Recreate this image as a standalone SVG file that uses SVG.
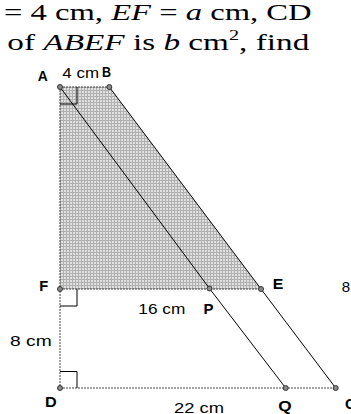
<svg xmlns="http://www.w3.org/2000/svg" width="351" height="414" viewBox="0 0 351 414">
<style>
.t{font-family:"Liberation Serif","Times New Roman",serif;font-size:23px;fill:#000}
.i{font-style:italic}
.lb{font-family:"Liberation Sans",Arial,sans-serif;font-weight:bold;font-size:15px;fill:#000}
.ln{font-family:"Liberation Sans",Arial,sans-serif;font-size:15px;fill:#000}
.dot{fill:#8a8a8a;stroke:#333;stroke-width:1}
.solid{stroke:#000;stroke-width:1;fill:none}
.dash{stroke:#444;stroke-width:1;stroke-dasharray:2 1;fill:none}
.ra{stroke:#000;stroke-width:1;fill:none}
</style>
<defs>
<pattern id="grid" x="0" y="0" width="3" height="3" patternUnits="userSpaceOnUse">
<rect width="3" height="3" fill="#e0e0e0"/>
<rect width="3" height="1" fill="#b0b0b0"/>
<rect width="1" height="3" fill="#b0b0b0"/>
</pattern>
</defs>
<rect width="351" height="414" fill="#fff"/>

<g id="header">
<text class="t" x="4" y="20" textLength="307.7" lengthAdjust="spacingAndGlyphs">= 4 cm, <tspan class="i">EF</tspan> = <tspan class="i">a</tspan> cm, CD</text>
<text class="t" x="7.3" y="49.5" textLength="302" lengthAdjust="spacingAndGlyphs">of <tspan class="i">ABEF</tspan> is <tspan class="i">b</tspan> cm<tspan font-size="14" dy="-10">2</tspan><tspan dy="10">, find</tspan></text>
</g>

<polygon id="shaded-ABEF" points="60,87 109.3,87 261,289 60,289" fill="url(#grid)"/>

<g id="connectors">
<line class="dash" x1="60" y1="87" x2="109.3" y2="87"/>
<line class="dash" x1="60" y1="87" x2="60" y2="388"/>
<line class="dash" x1="60" y1="289" x2="261" y2="289"/>
<line class="dash" x1="60" y1="388" x2="335.7" y2="388"/>
<polyline class="solid" points="60,87 209.5,288.5 285.7,388"/>
<polyline class="solid" points="109.3,87 261,289 335.7,388"/>
<polyline class="ra" points="60,104 77,104 77,87"/>
<polyline class="ra" points="60,306 77,306 77,289"/>
<polyline class="ra" points="60,371.5 77,371.5 77,388"/>
</g>

<g id="A"><circle class="dot" cx="60" cy="87" r="2.5"/><text class="lb" x="37.7" y="80.7" font-size="12" textLength="10" lengthAdjust="spacingAndGlyphs">A</text></g>
<g id="B"><circle class="dot" cx="109.3" cy="87" r="2.5"/><text class="lb" x="102" y="77.3" font-size="12" textLength="9" lengthAdjust="spacingAndGlyphs">B</text></g>
<g id="F"><circle class="dot" cx="60" cy="289" r="2.5"/><text class="lb" x="39.3" y="291.3" textLength="9" lengthAdjust="spacingAndGlyphs">F</text></g>
<g id="E"><circle class="dot" cx="261" cy="289" r="2.5"/><text class="lb" x="272.7" y="289.3" textLength="10.6" lengthAdjust="spacingAndGlyphs">E</text></g>
<g id="P"><circle class="dot" cx="209.5" cy="288.5" r="2.5"/><text class="lb" x="203.5" y="313.5" textLength="10" lengthAdjust="spacingAndGlyphs">P</text></g>
<g id="D"><circle class="dot" cx="60" cy="388" r="2.5"/><text class="lb" x="45" y="407.3" textLength="11.7" lengthAdjust="spacingAndGlyphs">D</text></g>
<g id="Q"><circle class="dot" cx="285.7" cy="388" r="2.5"/><text class="lb" x="278.3" y="411" textLength="13.4" lengthAdjust="spacingAndGlyphs">Q</text></g>
<g id="C"><circle class="dot" cx="335.7" cy="388" r="2.5"/><text class="lb" x="345" y="409">C</text></g>

<g id="labels">
<text class="ln" x="62.3" y="78.3" font-size="13" textLength="36.7" lengthAdjust="spacingAndGlyphs">4 cm</text>
<text class="ln" x="138.3" y="313.5" textLength="47" lengthAdjust="spacingAndGlyphs">16 cm</text>
<text class="ln" x="10" y="345.7" textLength="41.7" lengthAdjust="spacingAndGlyphs">8 cm</text>
<text class="ln" x="174" y="412.5" textLength="50" lengthAdjust="spacingAndGlyphs">22 cm</text>
<text class="ln" x="341.7" y="291.7">8</text>
</g>
</svg>
